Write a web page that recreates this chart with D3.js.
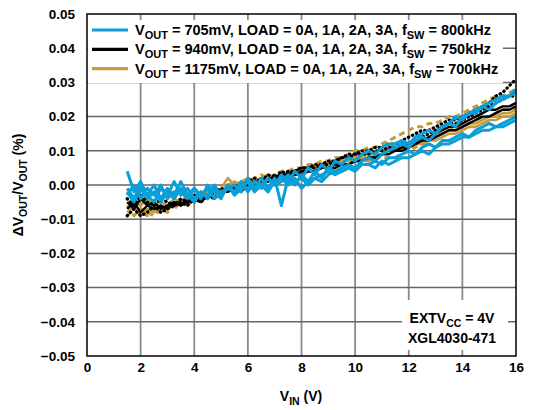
<!DOCTYPE html>
<html><head><meta charset="utf-8">
<script src="https://cdn.jsdelivr.net/npm/d3@7/dist/d3.min.js"></script>
<style>
html,body{margin:0;padding:0;background:#fff;}
text{font-family:"Liberation Sans",Arial,sans-serif;font-weight:bold;fill:#000;}
</style></head>
<body><svg id="c" width="533" height="410"></svg>
<script>
// ---------- data ----------
const xTicks = [0, 2, 4, 6, 8, 10, 12, 14, 16];
const yTicks = [0.05, 0.04, 0.03, 0.02, 0.01, 0.00, -0.01, -0.02, -0.03, -0.04, -0.05];
const yTickLabels = ["0.05","0.04","0.03","0.02","0.01","0.00","\u22120.01","\u22120.02","\u22120.03","\u22120.04","\u22120.05"];

const vin = [1.5,1.75,2,2.25,2.5,2.75,3,3.25,3.5,3.75,4,4.25,4.5,4.75,5,5.25,5.5,5.75,6,6.25,6.5,6.75,7,7.25,7.5,7.75,8,8.25,8.5,8.75,9,9.25,9.5,9.75,10,10.25,10.5,10.75,11,11.25,11.5,11.75,12,12.25,12.5,12.75,13,13.25,13.5,13.75,14,14.25,14.5,14.75,15,15.25,15.5,15.75,16];

// VOUT = 705mV (blue), loads 0A..3A
const blue0A = [0.004,-0.002,0.001,-0.003, 0.000,-0.004,-0.001,-0.003, 0.001,-0.003,-0.001,-0.004, 0.000,-0.002,-0.004,0.000, -0.002,0.001,-0.002,0.001, -0.001,0.002,0.000,0.003, 0.001,0.004,0.002,0.005, 0.003,0.006,0.004,0.007, 0.006,0.008,0.007,0.009, 0.010,0.009,0.011,0.012, 0.012,0.013,0.012,0.014, 0.015,0.016,0.015,0.017, 0.018,0.020,0.019,0.021, 0.022,0.023,0.022,0.024, 0.025,0.026,0.028];
const blue1A = [-0.001,-0.004,0.000,-0.003, -0.005,-0.001,-0.003,0.001, -0.003,-0.001,-0.004,-0.002, -0.003,0.000,-0.003,-0.001, 0.000,-0.002,0.002,-0.001, 0.002,-0.001,0.002,-0.006, 0.002,0.000,0.003,0.001, 0.004,0.002,0.005,0.004, 0.005,0.006,0.005,0.007, 0.008,0.007,0.009,0.010, 0.011,0.012,0.011,0.013, 0.014,0.013,0.015,0.017, 0.018,0.017,0.020,0.021, 0.021,0.023,0.024,0.025, 0.026,0.026,0.027];
const blue2A = [-0.002,-0.005,-0.001,-0.004, -0.002,-0.005,-0.002,-0.004, -0.001,-0.003,-0.005,-0.002, -0.004,-0.001,-0.003,0.000, -0.003,-0.001,0.001,-0.002, 0.000,-0.002,0.001,0.002, 0.000,0.002,-0.001,0.001, 0.002,0.001,0.003,0.004, 0.004,0.005,0.004,0.006, 0.006,0.007,0.006,0.008, 0.008,0.009,0.010,0.009, 0.011,0.012,0.011,0.013, 0.013,0.014,0.015,0.014, 0.016,0.017,0.018,0.017, 0.018,0.019,0.020];
const blue3A = [-0.003,0.000,-0.004,-0.001, -0.003,0.000,-0.004,-0.002, -0.002,-0.004,-0.001,-0.003, -0.001,-0.004,-0.002,-0.001, -0.002,0.000,-0.001,0.001, 0.000,0.002,0.000,0.001, 0.003,0.001,0.002,0.000, 0.002,0.003,0.004,0.003, 0.004,0.005,0.005,0.006, 0.006,0.005,0.007,0.006, 0.007,0.008,0.008,0.009, 0.010,0.009,0.011,0.012, 0.012,0.013,0.014,0.014, 0.015,0.016,0.016,0.017, 0.017,0.018,0.019];

// VOUT = 940mV (black)
const black0A = [-0.005,-0.007,-0.004,-0.006, -0.005,-0.007,-0.006,-0.005, -0.006,-0.004,-0.005,-0.003, -0.004,-0.002,-0.003,-0.001, -0.002,0.000,-0.001,0.001, 0.000,0.002,0.001,0.003, 0.002,0.003,0.003,0.004, 0.004,0.005,0.005,0.005, 0.006,0.006,0.007,0.007, 0.008,0.008,0.009,0.009, 0.010,0.010,0.011,0.012, 0.013,0.014,0.015,0.016, 0.017,0.017,0.018,0.019, 0.020,0.021,0.022,0.022, 0.023,0.023,0.024];
const black1A = [-0.004,-0.006,-0.003,-0.005, -0.006,-0.004,-0.005,-0.006, -0.004,-0.005,-0.003,-0.004, -0.003,-0.002,-0.001,-0.002, 0.000,-0.001,0.001,0.002, 0.001,0.003,0.002,0.004, 0.003,0.004,0.005,0.005, 0.006,0.006,0.007,0.007, 0.008,0.009,0.009,0.010, 0.010,0.011,0.011,0.012, 0.012,0.013,0.014,0.015, 0.016,0.016,0.017,0.018, 0.019,0.019,0.020,0.021, 0.022,0.023,0.024,0.026, 0.027,0.029,0.031];
const black2A = [-0.007,-0.005,-0.008,-0.006, -0.007,-0.006,-0.007,-0.005, -0.006,-0.005,-0.004,-0.005, -0.003,-0.004,-0.002,-0.002, -0.001,-0.002,0.000,0.001, 0.001,0.001,0.002,0.002, 0.003,0.003,0.004,0.004, 0.004,0.005,0.005,0.006, 0.006,0.006,0.007,0.007, 0.008,0.008,0.009,0.010, 0.010,0.011,0.011,0.012, 0.013,0.013,0.014,0.015, 0.016,0.016,0.017,0.018, 0.019,0.020,0.020,0.021, 0.022,0.022,0.023];
const black3A = [-0.009,-0.007,-0.009,-0.008, -0.006,-0.008,-0.007,-0.006, -0.005,-0.006,-0.004,-0.005, -0.003,-0.004,-0.002,-0.001, -0.002,0.000,0.001,0.000, 0.002,0.001,0.003,0.002, 0.004,0.004,0.005,0.005, 0.005,0.006,0.006,0.007, 0.008,0.008,0.009,0.009, 0.009,0.010,0.010,0.011, 0.011,0.012,0.012,0.013, 0.014,0.015,0.016,0.017, 0.018,0.018,0.019,0.020, 0.021,0.022,0.023,0.024, 0.025,0.026,0.026];

// VOUT = 1175mV (gold)
const gold0A = [-0.008,-0.006,-0.009,-0.007, -0.008,-0.006,-0.007,-0.005, -0.006,-0.004,-0.005,-0.003, -0.002,-0.003,-0.001,0.002, 0.000,0.001,0.002,0.001, 0.002,0.003,0.002,0.003, 0.004,0.004,0.005,0.005, 0.006,0.006,0.007,0.007, 0.008,0.008,0.008,0.009, 0.009,0.010,0.010,0.011, 0.011,0.012,0.012,0.013, 0.013,0.014,0.014,0.015, 0.016,0.016,0.017,0.018, 0.018,0.019,0.020,0.020, 0.021,0.021,0.022];
const gold1A = [-0.006,-0.009,-0.007,-0.008, -0.009,-0.007,-0.008,-0.006, -0.005,-0.006,-0.004,-0.004, -0.003,-0.002,-0.001,-0.001, 0.000,0.001,0.001,0.002, 0.003,0.002,0.003,0.004, 0.004,0.005,0.005,0.006, 0.006,0.007,0.007,0.008, 0.008,0.009,0.010,0.010, 0.011,0.011,0.012,0.013, 0.014,0.015,0.016,0.017, 0.017,0.018,0.018,0.019, 0.020,0.020,0.021,0.022, 0.023,0.024,0.025,0.026, 0.026,0.027,0.028];
const gold2A = [-0.007,-0.005,-0.006,-0.004, -0.006,-0.005,-0.006,-0.004, -0.005,-0.003,-0.004,-0.002, -0.003,-0.001,-0.002,0.000, 0.001,0.000,0.002,0.001, 0.002,0.003,0.002,0.003, 0.004,0.003,0.004,0.005, 0.005,0.005,0.006,0.006, 0.007,0.007,0.007,0.008, 0.008,0.009,0.009,0.010, 0.010,0.011,0.011,0.012, 0.012,0.013,0.013,0.014, 0.015,0.015,0.016,0.017, 0.017,0.018,0.019,0.019, 0.020,0.020,0.021];
const gold3A = [-0.009,-0.007,-0.008,-0.009, -0.007,-0.008,-0.006,-0.007, -0.005,-0.006,-0.004,-0.004, -0.003,-0.002,-0.002,-0.001, 0.000,-0.001,0.001,0.001, 0.002,0.002,0.003,0.003, 0.004,0.004,0.005,0.005, 0.005,0.006,0.006,0.007, 0.007,0.007,0.008,0.007, 0.007,0.008,0.008,0.008, 0.008,0.009,0.010,0.011, 0.012,0.013,0.014,0.015, 0.016,0.017,0.017,0.018, 0.019,0.020,0.020,0.021, 0.022,0.022,0.023];

const legendLabels = [
  {sub1:"OUT", mid:" = 705mV, LOAD = 0A, 1A, 2A, 3A, f", sub2:"SW", end:" = 800kHz"},
  {sub1:"OUT", mid:" = 940mV, LOAD = 0A, 1A, 2A, 3A, f", sub2:"SW", end:" = 750kHz"},
  {sub1:"OUT", mid:" = 1175mV, LOAD = 0A, 1A, 2A, 3A, f", sub2:"SW", end:" = 700kHz"}
];

// ---------- styling ----------
const BLUE = "#0b9fd8", BLACK = "#000000", GOLD = "#c79b3b";
const series = [
  {y: gold0A, color: GOLD, dash: null, w: 2.6},
  {y: gold1A, color: GOLD, dash: "6,4", w: 3},
  {y: gold2A, color: GOLD, dash: null, w: 2.6},
  {y: gold3A, color: GOLD, dash: "6,4", w: 3},
  {y: black0A, color: BLACK, dash: null, w: 2.4},
  {y: black1A, color: BLACK, dash: "0.5,4", w: 3.2, cap: "round"},
  {y: black2A, color: BLACK, dash: null, w: 2.4},
  {y: black3A, color: BLACK, dash: "0.5,4", w: 3.2, cap: "round"},
  {y: blue0A, color: BLUE, dash: null, w: 3},
  {y: blue1A, color: BLUE, dash: null, w: 3},
  {y: blue2A, color: BLUE, dash: null, w: 3},
  {y: blue3A, color: BLUE, dash: null, w: 3}
];

const L = 87, R = 516, T = 14, B = 356;
const svg = d3.select("#c");
const x = d3.scaleLinear().domain([0, 16]).range([L, R]);
const y = d3.scaleLinear().domain([-0.05, 0.05]).range([B, T]);

// grid
const g = svg.append("g");
g.selectAll(".vg").data(xTicks.slice(1, -1)).join("line")
  .attr("x1", d => x(d)).attr("x2", d => x(d)).attr("y1", T).attr("y2", B)
  .attr("stroke", "#8a8a8a").attr("stroke-width", 1.8);
g.selectAll(".hg").data(yTicks.slice(1, -1)).join("line")
  .attr("x1", L).attr("x2", R).attr("y1", d => y(d)).attr("y2", d => y(d))
  .attr("stroke", "#666").attr("stroke-width", 1.5);

// lines
svg.append("clipPath").attr("id", "pc").append("rect")
  .attr("x", L).attr("y", T).attr("width", R - L).attr("height", B - T);
const lg = svg.append("g").attr("clip-path", "url(#pc)");
series.forEach(s => {
  const pts = d3.zip(vin, s.y);
  lg.append("path").datum(pts)
    .attr("d", d3.line().x(d => x(d[0])).y(d => y(d[1])))
    .attr("fill", "none").attr("stroke", s.color).attr("stroke-width", s.w)
    .attr("stroke-linejoin", "round")
    .attr("stroke-linecap", s.cap || "butt")
    .attr("stroke-dasharray", s.dash);
});

// legend box
svg.append("rect").attr("x", L + 1).attr("y", 20).attr("width", 503 - L - 1).attr("height", 63).attr("fill", "#fff");
const legColors = [BLUE, BLACK, GOLD];
legendLabels.forEach((lab, i) => {
  const yy = 30 + i * 19.3;
  svg.append("line").attr("x1", 92).attr("x2", 128).attr("y1", yy).attr("y2", yy)
    .attr("stroke", legColors[i]).attr("stroke-width", 3.2);
  const t = svg.append("text").attr("x", 135).attr("y", yy + 5).attr("font-size", 14.5);
  t.append("tspan").text("V");
  t.append("tspan").attr("dy", 4).attr("font-size", 11).text(lab.sub1);
  t.append("tspan").attr("dy", -4).text(lab.mid);
  t.append("tspan").attr("dy", 4).attr("font-size", 11).text(lab.sub2);
  t.append("tspan").attr("dy", -4).text(lab.end);
});

// annotation box
svg.append("rect").attr("x", 402).attr("y", 300).attr("width", 106).attr("height", 50).attr("fill", "#fff");
const a1 = svg.append("text").attr("x", 452).attr("y", 323).attr("text-anchor", "middle").attr("font-size", 14);
a1.append("tspan").text("EXTV");
a1.append("tspan").attr("dy", 4).attr("font-size", 10.5).text("CC");
a1.append("tspan").attr("dy", -4).text(" = 4V");
svg.append("text").attr("x", 452).attr("y", 343).attr("text-anchor", "middle").attr("font-size", 14).text("XGL4030-471");

// frame
svg.append("rect").attr("x", L).attr("y", T).attr("width", R - L).attr("height", B - T)
  .attr("fill", "none").attr("stroke", "#000").attr("stroke-width", 1.5);

// axes (labels via d3 axes)
const yAxis = svg.append("g").attr("transform", `translate(${L},0)`)
  .call(d3.axisLeft(y).tickValues(yTicks).tickSize(0).tickPadding(12)
    .tickFormat((d, i) => yTickLabels[i]));
yAxis.select(".domain").remove();
yAxis.selectAll("text").attr("font-size", 13.5).attr("font-family", "Liberation Sans, Arial, sans-serif").attr("font-weight", "bold");

const xAxis = svg.append("g").attr("transform", `translate(0,${B})`)
  .call(d3.axisBottom(x).tickValues(xTicks).tickSize(0).tickPadding(6).tickFormat(d3.format("d")));
xAxis.select(".domain").remove();
xAxis.selectAll("text").attr("font-size", 13.5).attr("font-family", "Liberation Sans, Arial, sans-serif").attr("font-weight", "bold");

// axis titles
const xt = svg.append("text").attr("x", 301).attr("y", 401).attr("text-anchor", "middle").attr("font-size", 14);
xt.append("tspan").text("V");
xt.append("tspan").attr("dy", 4).attr("font-size", 10.5).text("IN");
xt.append("tspan").attr("dy", -4).text(" (V)");

const yt = svg.append("text").attr("transform", `translate(23,${(T + B) / 2}) rotate(-90)`)
  .attr("text-anchor", "middle").attr("font-size", 14);
yt.append("tspan").text("\u0394V");
yt.append("tspan").attr("dy", 4).attr("font-size", 10.5).text("OUT");
yt.append("tspan").attr("dy", -4).text("/V");
yt.append("tspan").attr("dy", 4).attr("font-size", 10.5).text("OUT");
yt.append("tspan").attr("dy", -4).text(" (%)");
</script></body></html>
